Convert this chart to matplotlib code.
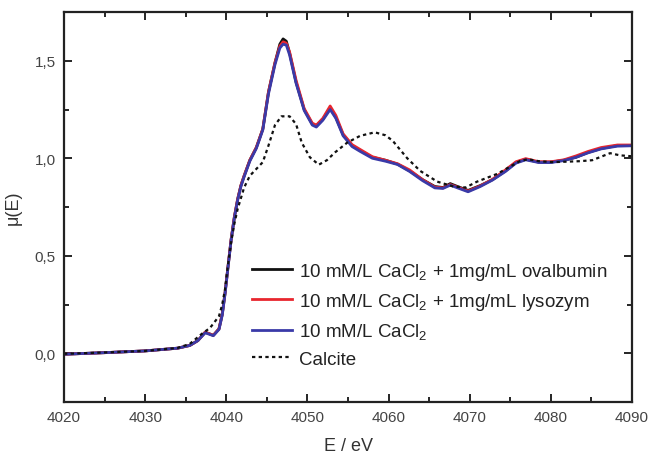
import matplotlib
matplotlib.use("Agg")
import matplotlib.pyplot as plt
from matplotlib.ticker import MultipleLocator, FuncFormatter

plt.rcParams['font.family'] = ['Liberation Sans', 'DejaVu Sans']
plt.rcParams['mathtext.fontset'] = 'custom'
plt.rcParams['mathtext.rm'] = 'Liberation Sans'
plt.rcParams['mathtext.it'] = 'Liberation Sans:italic'
plt.rcParams['mathtext.default'] = 'regular'

# ---- data ----
energy = [4020, 4025, 4030, 4034, 4035.5, 4036.5, 4037.4, 4038.4, 4039.1, 4039.5,
          4039.85, 4040.2, 4040.6, 4041.0, 4041.4, 4041.8, 4042.2, 4042.9, 4043.7, 4044.5,
          4045.2, 4046, 4046.6, 4047, 4047.4, 4047.8, 4048.6, 4049.6, 4050.6, 4051.1,
          4051.9, 4052.8, 4053.5, 4054.4, 4055.5, 4056.5, 4058, 4059.6, 4061.1, 4062.6,
          4064.2, 4065.7, 4066.7, 4067.6, 4068.5, 4069.8, 4071.3, 4072.8, 4074.4, 4075.7,
          4076.9, 4078.5, 4080, 4081.6, 4083.1, 4084.6, 4086.2, 4088.2, 4090]

mu_ovalbumin = [-0.005, 0.003, 0.012, 0.026, 0.04, 0.065, 0.108, 0.092, 0.125, 0.2,
                0.31, 0.44, 0.585, 0.7, 0.79, 0.86, 0.91, 0.99, 1.055, 1.15,
                1.34, 1.49, 1.585, 1.612, 1.60, 1.54, 1.39, 1.25, 1.175, 1.167,
                1.20, 1.258, 1.21, 1.12, 1.065, 1.04, 1.005, 0.99, 0.97, 0.935,
                0.89, 0.855, 0.85, 0.87, 0.855, 0.835, 0.86, 0.89, 0.935, 0.978,
                0.995, 0.98, 0.98, 0.99, 1.005, 1.03, 1.05, 1.065, 1.066]

mu_lysozym = [-0.005, 0.003, 0.012, 0.026, 0.04, 0.065, 0.108, 0.092, 0.125, 0.2,
              0.31, 0.44, 0.585, 0.7, 0.79, 0.86, 0.91, 0.99, 1.055, 1.15,
              1.34, 1.49, 1.575, 1.597, 1.59, 1.545, 1.40, 1.255, 1.18, 1.17,
              1.205, 1.268, 1.22, 1.125, 1.07, 1.045, 1.008, 0.99, 0.972, 0.94,
              0.89, 0.852, 0.848, 0.865, 0.852, 0.832, 0.858, 0.892, 0.94, 0.982,
              0.998, 0.982, 0.982, 0.992, 1.012, 1.035, 1.055, 1.068, 1.068]

mu_cacl2 = [-0.005, 0.003, 0.012, 0.026, 0.04, 0.065, 0.105, 0.09, 0.122, 0.195,
            0.305, 0.435, 0.58, 0.695, 0.785, 0.855, 0.905, 0.985, 1.05, 1.145,
            1.33, 1.48, 1.565, 1.585, 1.58, 1.53, 1.385, 1.245, 1.17, 1.16,
            1.195, 1.25, 1.205, 1.115, 1.06, 1.035, 1.0, 0.985, 0.968, 0.932,
            0.885, 0.848, 0.845, 0.862, 0.848, 0.828, 0.855, 0.888, 0.932, 0.975,
            0.992, 0.978, 0.978, 0.988, 1.005, 1.028, 1.048, 1.062, 1.064]

energy_calcite = [4020, 4025, 4030, 4034, 4035.5, 4037, 4038, 4039.1, 4039.5, 4039.85,
                  4040.2, 4040.6, 4041.0, 4041.4, 4042.2, 4042.9, 4043.7, 4044.5, 4045.2, 4046,
                  4046.8, 4047.8, 4048.6, 4049.3, 4050.3, 4051.4, 4052.4, 4053.4, 4054.9, 4056.5,
                  4058.3, 4059.6, 4060.5, 4062.3, 4063.9, 4066, 4068, 4069.5, 4070.9, 4073.4,
                  4076.2, 4077.2, 4078.5, 4080.3, 4083.6, 4085.1, 4087.3, 4088.5, 4090]
mu_calcite = [-0.003, 0.004, 0.012, 0.027, 0.048, 0.10, 0.13, 0.19, 0.25, 0.33,
              0.45, 0.57, 0.665, 0.74, 0.85, 0.91, 0.945, 0.98, 1.065, 1.17,
              1.215, 1.215, 1.175, 1.08, 1.005, 0.967, 0.99, 1.03, 1.08, 1.115,
              1.133, 1.118, 1.09, 1.0, 0.935, 0.88, 0.855, 0.85, 0.88, 0.92,
              0.986, 0.995, 0.985, 0.98, 0.985, 0.99, 1.026, 1.015, 1.01]

labels = [r'10 mM/L CaCl$_2$ + 1mg/mL ovalbumin',
          r'10 mM/L CaCl$_2$ + 1mg/mL lysozym',
          r'10 mM/L CaCl$_2$',
          'Calcite']
xticks = [4020, 4030, 4040, 4050, 4060, 4070, 4080, 4090]
yticks = [0.0, 0.5, 1.0, 1.5]

# ---- figure ----
fig = plt.figure(figsize=(6.51, 4.56), dpi=100)
ax = fig.add_axes([64/651, 1 - 403/456, (632-64)/651, (403-13)/456])

ax.plot(energy, mu_ovalbumin, color='#111111', lw=2.0, label=labels[0])
ax.plot(energy, mu_lysozym, color='#e8262e', lw=2.0, label=labels[1])
ax.plot(energy, mu_cacl2, color='#3a3aa8', lw=2.0, label=labels[2])
ax.plot(energy_calcite, mu_calcite, color='#111111', lw=1.6,
        linestyle=(0, (1.5, 1.5)), label=labels[3])

ax.set_xlim(4020, 4090)
ax.set_ylim(-0.25, 1.75)
ax.set_xticks(xticks)
ax.set_yticks(yticks)
ax.xaxis.set_minor_locator(MultipleLocator(5))
ax.yaxis.set_minor_locator(MultipleLocator(0.25))
ax.yaxis.set_major_formatter(FuncFormatter(lambda v, p: f'{v:.1f}'.replace('.', ',')))
ax.tick_params(which='both', direction='in', top=True, right=True,
               labelsize=11, labelcolor='#444444', width=1.2, pad=6)
ax.tick_params(which='major', length=6)
ax.tick_params(which='minor', length=3.5)
for s in ax.spines.values():
    s.set_linewidth(1.6)
    s.set_color('#222222')

ax.set_xlabel('E / eV', fontsize=13, color='#333333', labelpad=9)
ax.set_ylabel('\u03bc(E)', fontsize=13, color='#333333', labelpad=9)

leg = ax.legend(loc='upper left', bbox_to_anchor=(0.318, 0.382), frameon=False,
                fontsize=13.5, handlelength=2.15, handletextpad=0.37,
                labelspacing=0.5, borderaxespad=0)
for t in leg.get_texts():
    t.set_color('#222222')

fig.savefig('out.png', dpi=100)
